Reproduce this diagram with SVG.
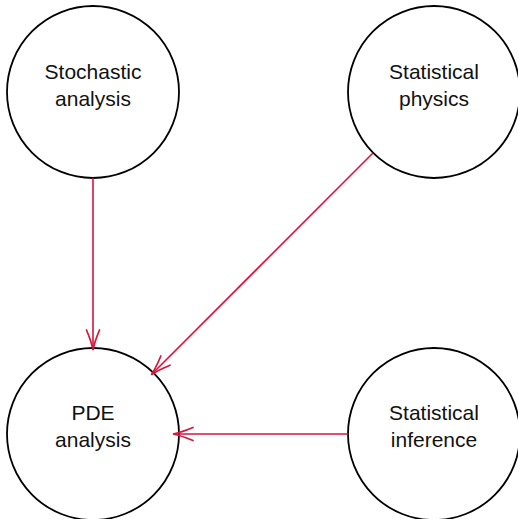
<svg xmlns="http://www.w3.org/2000/svg" width="518" height="519" viewBox="0 0 518 519">
<defs>
<marker id="arr" viewBox="-22 -9 26 18" refX="0" refY="0" markerWidth="26" markerHeight="18" markerUnits="userSpaceOnUse" orient="auto">
<path d="M-19,-6.5 Q-7,-1.5 1,0 Q-7,1.5 -19,6.5" fill="none" stroke="#d7143c" stroke-width="1.7" stroke-linecap="round"/>
</marker>
<style>
.node circle{fill:#fff;stroke:#000;stroke-width:1.8}
.node text{font-family:"Liberation Sans","DejaVu Sans",sans-serif;font-size:21px;fill:#111;text-anchor:middle}
.edge{stroke:#d7143c;stroke-width:1.6;fill:none;marker-end:url(#arr)}
</style>
</defs>
<rect width="518" height="519" fill="#fff"/>
<g id="n-stochastic" class="node">
<circle cx="93" cy="92" r="86"/>
<text x="93" y="79">Stochastic</text>
<text x="93" y="106">analysis</text>
</g>
<g id="n-physics" class="node">
<circle cx="434" cy="92" r="86"/>
<text x="434" y="79">Statistical</text>
<text x="434" y="106">physics</text>
</g>
<g id="n-pde" class="node">
<circle cx="93" cy="434" r="86"/>
<text x="93" y="420">PDE</text>
<text x="93" y="447">analysis</text>
</g>
<g id="n-inference" class="node">
<circle cx="434" cy="434" r="86"/>
<text x="434" y="420">Statistical</text>
<text x="434" y="447">inference</text>
</g>
<g id="connectors">
<line class="edge" x1="93" y1="178" x2="93" y2="349"/>
<line class="edge" x1="373" y1="153" x2="152" y2="374"/>
<line class="edge" x1="348" y1="434" x2="174" y2="434"/>
</g>
</svg>
